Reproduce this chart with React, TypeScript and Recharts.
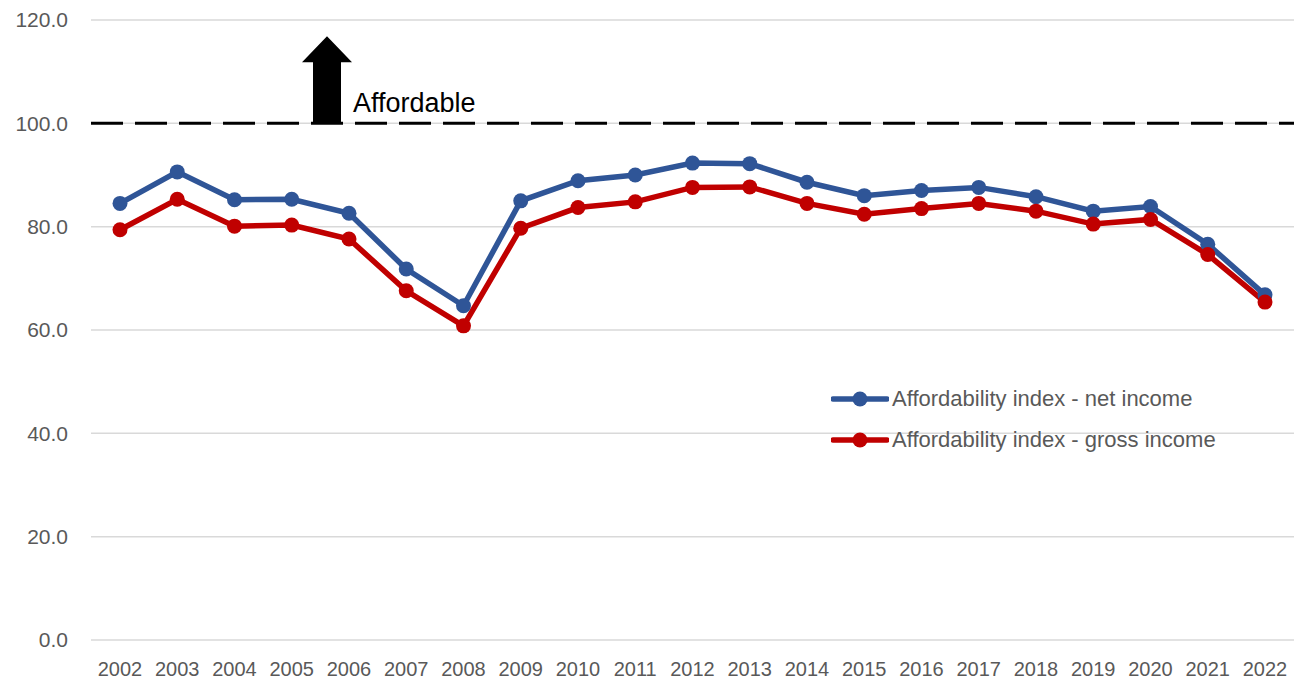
import {
  LineChart, Line, XAxis, YAxis, CartesianGrid, ReferenceLine,
} from 'recharts';

const years = [
  '2002', '2003', '2004', '2005', '2006', '2007', '2008', '2009', '2010', '2011', '2012',
  '2013', '2014', '2015', '2016', '2017', '2018', '2019', '2020', '2021', '2022',
];
const netIncome = [
  84.5, 90.6, 85.2, 85.3, 82.6, 71.8, 64.7, 85.0, 88.9, 90.0, 92.3,
  92.2, 88.6, 86.0, 87.0, 87.6, 85.8, 83.0, 83.9, 76.6, 66.8,
];
const grossIncome = [
  79.4, 85.3, 80.1, 80.3, 77.6, 67.6, 60.8, 79.7, 83.7, 84.8, 87.6,
  87.7, 84.5, 82.4, 83.5, 84.5, 83.0, 80.5, 81.4, 74.6, 65.4,
];
const yTicks = [0, 20, 40, 60, 80, 100, 120];
const affordableLevel = 100;

const BLUE = '#2F5597';
const RED = '#C00000';
const TEXT = '#595959';
const FONT = "'Liberation Sans', Arial, sans-serif";

const chartData = years.map((year, i) => ({
  year,
  net: netIncome[i],
  gross: grossIncome[i],
}));

const legendItems = [
  { label: 'Affordability index - net income', color: BLUE },
  { label: 'Affordability index - gross income', color: RED },
];

// legend sits inside the plot, so it is drawn as an overlay
function LegendBox() {
  return (
    <div style={{ position: 'absolute', left: 831, top: 378, fontFamily: FONT }}>
      {legendItems.map((item) => (
        <div key={item.label} style={{ display: 'flex', alignItems: 'center', height: 41 }}>
          <svg width={58} height={16} style={{ marginRight: 3 }}>
            <line x1={2} y1={8} x2={56} y2={8} stroke={item.color} strokeWidth={5.5} strokeLinecap="round" />
            <circle cx={29} cy={8} r={7.5} fill={item.color} />
          </svg>
          <span style={{ color: TEXT, fontSize: 22, whiteSpace: 'nowrap' }}>{item.label}</span>
        </div>
      ))}
    </div>
  );
}

// up arrow and label sitting on the 100 line
function AffordableLabel(props: any) {
  const { x, y } = props.viewBox;
  const ax = x + 236;
  return (
    <g>
      <polygon
        points={`${ax - 14},${y} ${ax + 14},${y} ${ax + 14},${y - 61} ${ax + 25},${y - 61} ${ax},${y - 87} ${ax - 25},${y - 61} ${ax - 14},${y - 61}`}
        fill="#000"
      />
      <text x={ax + 26} y={y - 11} fontSize={27} fill="#000" fontFamily={FONT}>
        Affordable
      </text>
    </g>
  );
}

export default function App() {
  return (
    <div style={{ position: 'absolute', left: 0, top: 0, width: 1294, height: 680, background: '#fff' }}>
      <LineChart
        width={1294}
        height={680}
        data={chartData}
        margin={{ top: 20, right: 0, left: 0, bottom: 0 }}
      >
        <CartesianGrid vertical={false} stroke="#d9d9d9" strokeWidth={1.5} />
        <XAxis
          dataKey="year"
          axisLine={false}
          tickLine={false}
          tickSize={0}
          tickMargin={22}
          height={40}
          interval={0}
          padding={{ left: 29, right: 29 }}
          tick={{ fill: TEXT, fontSize: 20, fontFamily: FONT }}
        />
        <YAxis
          domain={[0, 120]}
          ticks={yTicks}
          axisLine={false}
          tickLine={false}
          tickSize={0}
          tickMargin={23}
          width={91}
          tickFormatter={(v: number) => v.toFixed(1)}
          tick={{ fill: TEXT, fontSize: 21, fontFamily: FONT }}
        />
        <ReferenceLine
          y={affordableLevel}
          stroke="#000"
          strokeWidth={3}
          strokeDasharray="32 12"
          label={<AffordableLabel />}
        />
        <Line
          dataKey="net"
          stroke={BLUE}
          strokeWidth={5.5}
          dot={{ r: 7.5, fill: BLUE, stroke: BLUE, strokeWidth: 0 }}
          activeDot={false}
          isAnimationActive={false}
        />
        <Line
          dataKey="gross"
          stroke={RED}
          strokeWidth={5.5}
          dot={{ r: 7.5, fill: RED, stroke: RED, strokeWidth: 0 }}
          activeDot={false}
          isAnimationActive={false}
        />
      </LineChart>
      <LegendBox />
    </div>
  );
}
